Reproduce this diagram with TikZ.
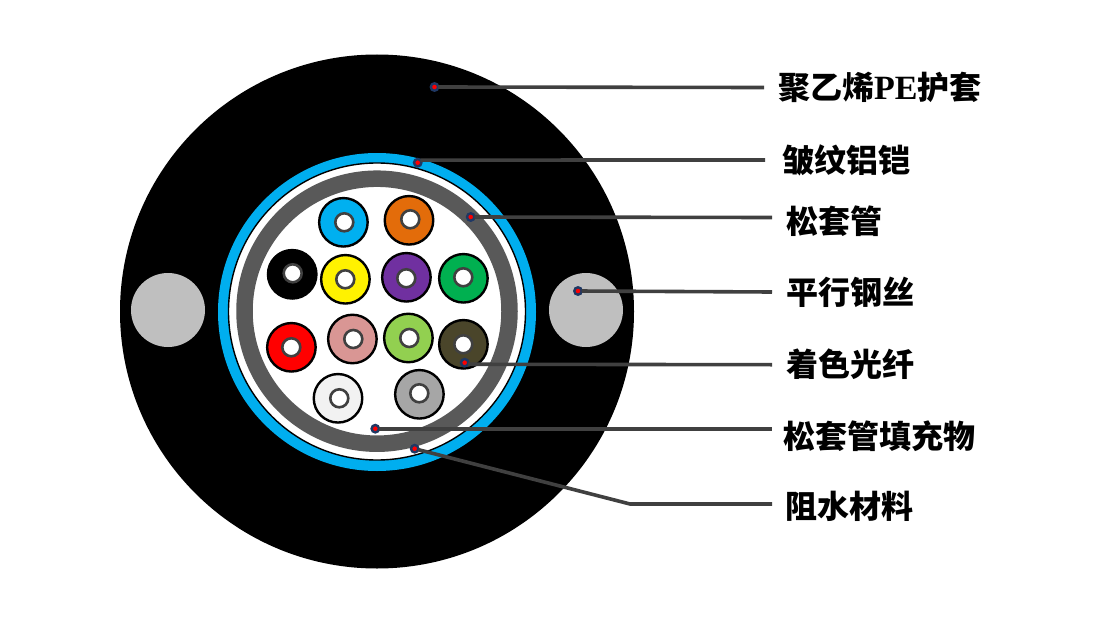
\documentclass[tikz,border=0pt]{standalone}
\usepackage{xcolor}
\usepackage{fontspec}
\setmainfont{Liberation Serif}
\newfontfamily\cjk{Noto Sans CJK SC}
\usetikzlibrary{positioning}
\definecolor{ringblue}{HTML}{00AEEF}
\definecolor{ringgray}{HTML}{595959}
\definecolor{wiregray}{HTML}{BFBFBF}
\definecolor{leadgray}{HTML}{404040}
\definecolor{dotnavy}{HTML}{1F3864}
\definecolor{fiberblue}{HTML}{00B0F0}
\definecolor{fiberorange}{HTML}{E36C0A}
\definecolor{fiberpurple}{HTML}{7030A0}
\definecolor{fibergreen}{HTML}{00B050}
\definecolor{fiberpink}{HTML}{D99694}
\definecolor{fiberlime}{HTML}{92D050}
\definecolor{fiberbrown}{HTML}{4A452A}
\definecolor{fiberwhite}{HTML}{F2F2F2}
\definecolor{fibergray}{HTML}{A6A6A6}
\tikzset{
    disc/.style={
        circle, inner sep=0pt, outer sep=0pt,
    },
    fiber/.style={
        disc, draw=black, line width=2.4pt, minimum size=48.5pt,
    },
    core/.style={
        disc, draw=leadgray, fill=white, line width=2.6pt, minimum size=18pt,
    },
    wire/.style={
        disc, fill=wiregray, minimum size=74pt,
    },
    dot/.style={
        disc, draw=dotnavy, fill=red, line width=2.4pt, minimum size=7.4pt,
    },
    leader/.style={
        draw=leadgray, line width=3.6pt,
    },
    callout/.style={
        inner sep=0pt, font=\fontsize{32}{32}\selectfont\bfseries\cjk, text=black,
    },
}
\begin{document}
\begin{tikzpicture}[x=1pt, y=-1pt]
\useasboundingbox (0,0) rectangle (1120,618);

% === CABLE BODY ===
\node[disc, fill=black, minimum size=514pt] (jacket) at (377,311.5) {};
\node[wire] (wireL) at (168,310) {};
\node[wire] (wireR) at (586,310) {};
\node[disc, fill=ringblue, minimum size=318pt] (armour) at (377,312) {};
\node[disc, draw=black, fill=white, line width=1.4pt, minimum size=297pt] (tape) at (377,311.5) {};
\node[disc, draw=ringgray, fill=white, line width=16.5pt, minimum size=265pt] (tube) at (377,311.2) {};

% === COLOURED FIBRES ===
\node[fiber, fill=fiberblue] (fibA) at (343.4,222.3) {};
\node[core] (coreA) at (344.3,222.3) {};
\node[fiber, fill=fiberorange] (fibB) at (409,220.3) {};
\node[core] (coreB) at (410.3,219.3) {};
\node[fiber, fill=black] (fibC) at (292.2,274.3) {};
\node[core] (coreC) at (292.7,273.3) {};
\node[fiber, fill=yellow] (fibD) at (345.4,279.3) {};
\node[core] (coreD) at (345.3,279.3) {};
\node[fiber, fill=fiberpurple] (fibE) at (406.4,277.3) {};
\node[core] (coreE) at (406.3,278.3) {};
\node[fiber, fill=fibergreen] (fibF) at (463.4,278.3) {};
\node[core] (coreF) at (463.3,277.3) {};
\node[fiber, fill=red] (fibG) at (291.4,347.3) {};
\node[core] (coreG) at (291.3,347.3) {};
\node[fiber, fill=fiberpink] (fibH) at (352.4,339) {};
\node[core] (coreH) at (353.3,339) {};
\node[fiber, fill=fiberlime] (fibI) at (408.4,338) {};
\node[core] (coreI) at (409.3,338) {};
\node[fiber, fill=fiberbrown] (fibJ) at (463.4,344.3) {};
\node[core] (coreJ) at (463.3,344.3) {};
\node[fiber, fill=fiberwhite] (fibK) at (338,398.3) {};
\node[core] (coreK) at (339.3,398.3) {};
\node[fiber, fill=fibergray] (fibL) at (419.4,394.3) {};
\node[core] (coreL) at (419.3,393.3) {};

% === LEADER ENDS AND LABELS ===
\coordinate (endA) at (764,87.5);
\coordinate (endB) at (765,160);
\coordinate (endC) at (772,217.5);
\coordinate (endD) at (772,292);
\coordinate (endE) at (772,364.7);
\coordinate (endF) at (772,428.7);
\coordinate (bendG) at (630,504);
\coordinate (endG) at (772,504);

\node[callout, right=14pt of endA] (labA) {聚乙烯{\rmfamily\fontsize{34}{34}\selectfont PE}护套};
\node[callout, right=17pt of endB] (labB) {皱纹铝铠};
\node[callout, right=14pt of endC, yshift=-4pt] (labC) {松套管};
\node[callout, right=14pt of endD] (labD) {平行钢丝};
\node[callout, right=14pt of endE] (labE) {着色光纤};
\node[callout, right=11pt of endF, yshift=-7.5pt] (labF) {松套管填充物};
\node[callout, right=13pt of endG, yshift=-2pt] (labG) {阻水材料};

% === MARKERS ===
\node[dot] (dotA) at (434.5,87) {};
\node[dot] (dotB) at (417.7,162.7) {};
\node[dot] (dotC) at (470.7,217) {};
\node[dot] (dotD) at (578,291) {};
\node[dot] (dotE) at (464.7,362.7) {};
\node[dot] (dotF) at (375.3,428.7) {};
\node[dot] (dotG) at (414.7,448.7) {};

% Leaders
\draw[leader] (dotA) -- (endA);
\draw[leader] (dotB.45) -- (endB);
\draw[leader] (dotC) -- (endC);
\draw[leader] (dotD) -- (endD);
\draw[leader] (dotE.-25) -- (endE);
\draw[leader] (dotF) -- (endF);
\draw[leader] (dotG.-15) -- (bendG) -- (endG);

\end{tikzpicture}
\end{document}
